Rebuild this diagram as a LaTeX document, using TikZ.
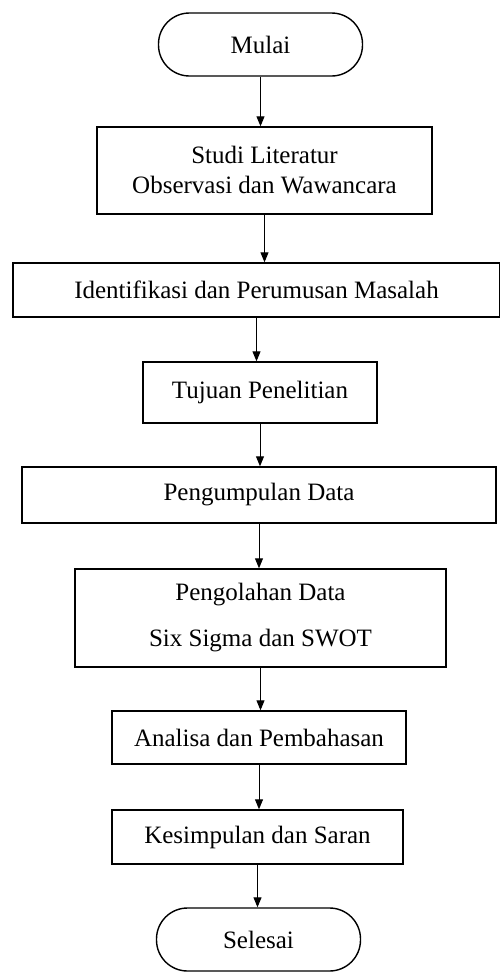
\documentclass[tikz,border=0pt]{standalone}
\usepackage{fontspec}
\setmainfont{Liberation Serif}
\usetikzlibrary{arrows.meta}

\begin{document}
\begin{tikzpicture}[x=1pt,y=-1pt,
    font=\fontsize{25}{30}\selectfont,
    box/.style={draw,line width=1.4pt,inner sep=0pt,align=center},
    term/.style={box,rounded corners=31pt,minimum width=204pt,minimum height=63pt},
    arr/.style={line width=1pt,-{Triangle[length=10pt,width=8pt]}}]
    \useasboundingbox (0,0) rectangle (499,972);
    \node[term] (mulai)   at (260.5, 44.5) {Mulai};
    \node[box,minimum width=335pt,minimum height=87pt] (studi)  at (264.5,170.5) {Studi Literatur\\Observasi dan Wawancara};
    \node[box,minimum width=487pt,minimum height=54pt] (ident)  at (256.5,290) {Identifikasi dan Perumusan Masalah};
    \node[box,minimum width=234pt,minimum height=61pt] (tujuan) at (260,392.5) {Tujuan Penelitian};
    \node[box,minimum width=474pt,minimum height=56pt] (kumpul) at (259,495) {Pengumpulan Data};
    \node[box,minimum width=371pt,minimum height=98pt] (olah)   at (260.5,618) {Pengolahan Data\\[16pt]Six Sigma dan SWOT};
    \node[box,minimum width=294pt,minimum height=53pt] (analisa) at (259,737.5) {Analisa dan Pembahasan};
    \node[box,minimum width=291pt,minimum height=54pt] (simpul) at (257.5,837) {Kesimpulan dan Saran};
    \node[term] (selesai) at (258.5,939.5) {Selesai};
    \draw[arr] (mulai)   -- (mulai |- studi.north);
    \draw[arr] (studi)   -- (studi |- ident.north);
    \draw[arr] (ident)   -- (ident |- tujuan.north);
    \draw[arr] (tujuan)  -- (tujuan |- kumpul.north);
    \draw[arr] (kumpul)  -- (kumpul |- olah.north);
    \draw[arr] (olah)    -- (olah |- analisa.north);
    \draw[arr] (analisa) -- (analisa |- simpul.north);
    \draw[arr] (simpul)  -- (simpul |- selesai.north);
  \end{tikzpicture}
\end{document}
